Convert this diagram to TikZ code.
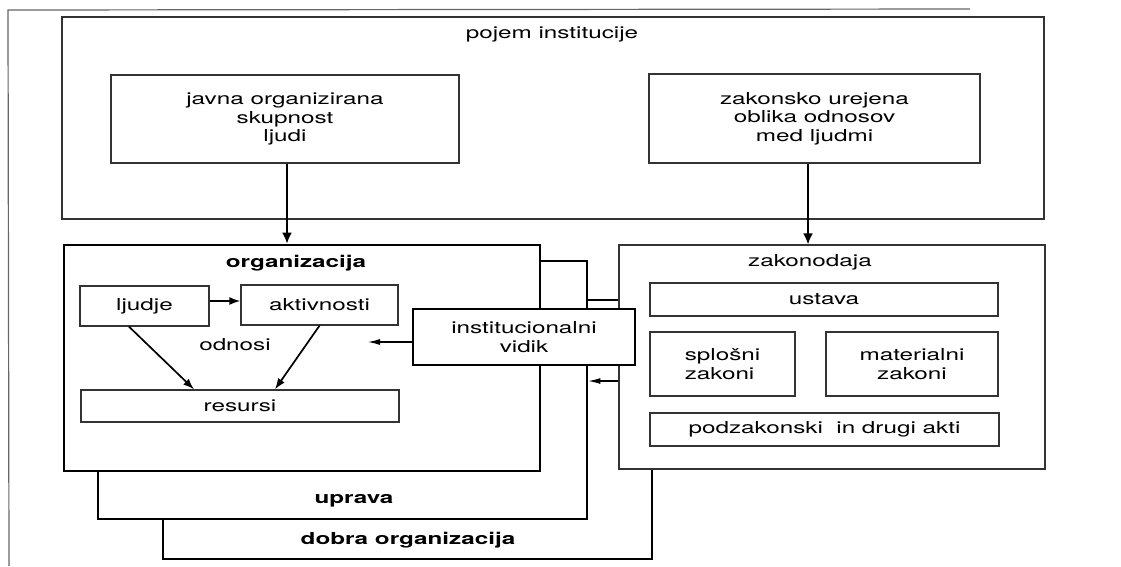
\documentclass[tikz,border=0pt]{standalone}
\usepackage{fontspec}
\setmainfont{TeX Gyre Heros}[FakeStretch=1.47]
\usetikzlibrary{arrows.meta,calc}
\begin{document}
\begin{tikzpicture}[x=1pt,y=-1pt,
  txt/.style={font=\fontsize{16.5}{18.7}\selectfont, align=center, text=black},
  boldtxt/.style={font=\fontsize{16.5}{18.7}\selectfont\bfseries, text=black},
  thinbox/.style={draw=black!80, line width=1.3pt, fill=white, inner sep=0pt, txt},
  thickbox/.style={draw=black, line width=2.8pt, fill=white, inner sep=0pt, txt},
  bigarrow/.style={draw=black, line width=1.9pt, -{Latex[length=11pt,width=10pt]}},
  midarrow/.style={draw=black, line width=1.7pt, -{Latex[length=11pt,width=8pt]}},
  smallarrow/.style={draw=black, line width=1.1pt, -{Latex[length=12pt,width=6pt]}},
  framebar/.style={draw=black!60, line width=1.2pt},
]
\useasboundingbox (0,0) rectangle (1121,566);

% page frame
\draw[framebar] (9,566) -- (8,10) -- (970,9);

% top level
\node[thinbox, minimum width=982, minimum height=202] (pojem) at (553,118) {};
\node[txt] (pojemT) at (552,34) {pojem institucije};
\node[thinbox, minimum width=348, minimum height=88] (javna) at (285,119)
  {javna organizirana\\skupnost\\ljudi};
\node[thinbox, minimum width=331, minimum height=89] (zakonsko) at (814.5,118.5)
  {zakonsko urejena\\oblika odnosov\\med ljudmi};

% stacked frames
\node[thickbox, minimum width=489, minimum height=259] (dobra) at (407.5,429.5) {};
\node[boldtxt] (dobraT) at (408,540) {dobra organizacija};
\node[thickbox, minimum width=489, minimum height=258] (uprava) at (342.5,390) {};
\node[boldtxt] (upravaT) at (354,501) {uprava};
\node[thickbox, minimum width=476, minimum height=226] (org) at (302,358) {};
\node[boldtxt] (orgT) at (296,263) {organizacija};

% organizacija contents
\node[thinbox, minimum width=129, minimum height=40] (ljudje) at (144.5,306) {ljudje};
\node[thinbox, minimum width=157, minimum height=40] (aktiv) at (319.5,305) {aktivnosti};
\node[thinbox, minimum width=318, minimum height=32] (resursi) at (240,406) {resursi};
\node[txt] (odnosi) at (235,345) {odnosi};

% zakonodaja
\node[thinbox, minimum width=426, minimum height=224] (zakon) at (832,357) {};
\node[txt] (zakonT) at (810,262) {zakonodaja};
\node[thinbox, minimum width=348, minimum height=33] (ustava) at (824,299.5) {ustava};
\node[thinbox, minimum width=145, minimum height=64, align=left] (splosni) at (722.5,364) {splošni\\zakoni};
\node[thinbox, minimum width=172, minimum height=64] (material) at (912,364) {materialni\\zakoni};
\node[thinbox, minimum width=349, minimum height=33] (podzak) at (824.5,429.5) {podzakonski\ \ in drugi akti};

% institucionalni vidik
\node[thickbox, minimum width=222, minimum height=56] (inst) at (524,337) {institucionalni\\vidik};

% connectors
\coordinate (ja) at ($(javna.south)+(2,0)$);
\draw[bigarrow] (ja) -- (ja |- org.north);
\coordinate (za) at ($(zakonsko.south)+(-6.5,0)$);
\draw[bigarrow] (za) -- (za |- zakon.north);

\coordinate (lj1) at ($(ljudje.east)+(0,-5)$);
\draw[midarrow] (lj1) -- (lj1 -| aktiv.west);
\coordinate (lj2) at ($(ljudje.south)+(-15.5,0)$);
\coordinate (re1) at ($(resursi.north)+(-46,0)$);
\draw[midarrow] (lj2) -- (re1);
\coordinate (re2) at ($(resursi.north)+(35,0)$);
\draw[midarrow] (aktiv.south) -- (re2);

\coordinate (in1) at ($(inst.west)+(0,5)$);
\coordinate (odEnd) at (368,342);
\draw[smallarrow] (in1) -- (odEnd);

\coordinate (zk1) at ($(zakon.west)+(0,24)$);
\draw[smallarrow] (zk1) -- (zk1 -| uprava.east);
\end{tikzpicture}
\end{document}
